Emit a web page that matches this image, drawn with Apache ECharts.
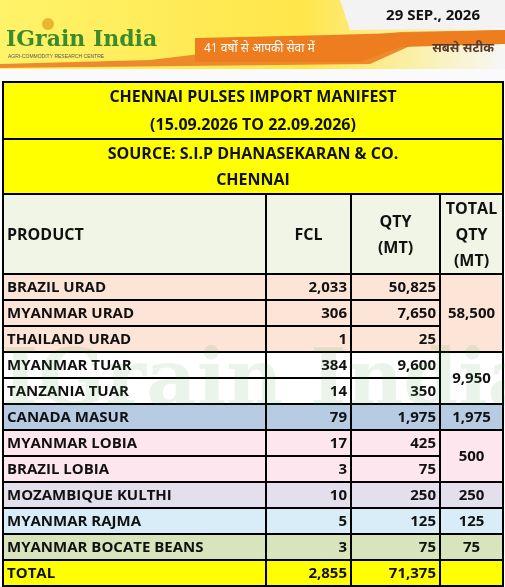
<!DOCTYPE html>
<html><head><meta charset="utf-8">
<script src="https://cdn.jsdelivr.net/npm/echarts@6/dist/echarts.min.js"></script>
<style>html,body{margin:0;padding:0;background:#fff}#c{width:505px;height:587px}</style>
</head><body><div id="c"></div>
<script>
const products = ["BRAZIL URAD","MYANMAR URAD","THAILAND URAD","MYANMAR TUAR","TANZANIA TUAR","CANADA MASUR","MYANMAR LOBIA","BRAZIL LOBIA","MOZAMBIQUE KULTHI","MYANMAR RAJMA","MYANMAR BOCATE BEANS"];
const fcl = [2033,306,1,384,14,79,17,3,10,5,3];
const qty = [50825,7650,25,9600,350,1975,425,75,250,125,75];
const groupTotals = [58500,9950,1975,500,250,125,75];
const groupSizes = [3,2,1,2,1,1,1];
const totalFcl = 2855, totalQty = 71375;
const title1 = "CHENNAI PULSES IMPORT MANIFEST", title2 = "(15.09.2026 TO 22.09.2026)";
const source1 = "SOURCE: S.I.P DHANASEKARAN & CO.", source2 = "CHENNAI";
const headers = ["PRODUCT","FCL","QTY\n(MT)","TOTAL\nQTY\n(MT)"];

// layout/style
const groupColors = ["#fce4d6","#ffffff","#b7cbe3","#fde6ee","#e4dfec","#d9edf9","#d8e4bc"];
const colEdges = [3,266,351,440,503];
const hTitle=57, hSource=55, hHead=80, hRow=26;
const fmt = v => v.toLocaleString('en-US');
const FONT = '"Open Sans", "Noto Sans", sans-serif';

const cells = [];
function cell(x0,x1,y0,y1,text,fill,align,size,lh){cells.push([x0,x1,y0,y1,text,fill,align||'center',size||15,lh||0]);}
let y=0;
cell(colEdges[0],colEdges[4],y,y+hTitle,title1+"\n"+title2,"#ffff00",'center',16,28); y+=hTitle;
cell(colEdges[0],colEdges[4],y,y+hSource,source1+"\n"+source2,"#ffff00",'center',16,26); y+=hSource;
for(let c=0;c<4;c++) cell(colEdges[c],colEdges[c+1],y,y+hHead,headers[c],"#f1f5e6",c==0?'left':'center',16,26);
y+=hHead;
let r=0;
groupSizes.forEach((n,g)=>{
  const gy=y;
  for(let k=0;k<n;k++,r++){
    cell(colEdges[0],colEdges[1],y,y+hRow,products[r],groupColors[g],'left');
    cell(colEdges[1],colEdges[2],y,y+hRow,fmt(fcl[r]),groupColors[g],'right');
    cell(colEdges[2],colEdges[3],y,y+hRow,fmt(qty[r]),groupColors[g],'right');
    y+=hRow;
  }
  cell(colEdges[3],colEdges[4],gy,y,fmt(groupTotals[g]),groupColors[g],'center');
});
cell(colEdges[0],colEdges[1],y,y+hRow,"TOTAL","#ffff00",'left');
cell(colEdges[1],colEdges[2],y,y+hRow,fmt(totalFcl),"#ffff00",'right');
cell(colEdges[2],colEdges[3],y,y+hRow,fmt(totalQty),"#ffff00",'right');
cell(colEdges[3],colEdges[4],y,y+hRow,"","#ffff00",'center');
y+=hRow;
const tableH=y;

const chart = echarts.init(document.getElementById('c'),null,{renderer:'canvas'});
chart.setOption({
  animation:false,
  grid:{left:0,right:0,top:82,bottom:587-82-tableH},
  xAxis:{type:'value',min:0,max:505,show:false},
  yAxis:{type:'value',min:0,max:tableH,inverse:true,show:false},
  graphic:[
    {type:'rect',shape:{x:0,y:0,width:505,height:82},style:{fill:new echarts.graphic.LinearGradient(0,0,1,0,[{offset:0,color:'#fff36a'},{offset:0.6,color:'#ffe64a'},{offset:1,color:'#f7f7f7'}])},z:0},
    {type:'polygon',shape:{points:[[340,0],[505,0],[505,28],[350,30]]},style:{fill:'#f3f3f3'},z:1},
    {type:'polygon',shape:{points:[[0,64],[150,60],[300,42],[400,32],[505,30],[505,42],[410,46],[370,64],[0,68]]},style:{fill:'#ef8a2c'},z:1},
    {type:'polygon',shape:{points:[[195,38],[330,35],[505,30],[505,44],[400,47],[360,62],[195,62]]},style:{fill:'#ee7d1f'},z:1},
    {type:'rect',shape:{x:0,y:69,width:505,height:13},style:{fill:'#fafafa'},z:1},
    {type:'text',x:6,y:29,style:{text:'IGrain India',font:'bold 22px "DejaVu Serif", serif',fill:'#3b8a2c'},z:3},
    {type:'text',x:8,y:54,style:{text:'AGRI-COMMODITY RESEARCH CENTRE',font:'5px sans-serif',fill:'#555'},z:3},
    {type:'circle',shape:{cx:48,cy:24,r:6},style:{fill:'#e8b72d'},z:3},
    {type:'text',x:204,y:43,style:{text:'41 वर्षों से आपकी सेवा में',font:'12px "Noto Sans", sans-serif',fill:'#fff'},z:3},
    {type:'text',x:480,y:8,style:{text:'29 SEP., 2026',font:'bold 15px '+FONT,fill:'#111',align:'right'},z:3},
    {type:'text',x:494,y:42,style:{text:'सबसे सटीक',font:'bold 13px "Noto Sans", sans-serif',fill:'#5a3a2a',align:'right'},z:3},
    {type:'text',x:270,y:385,style:{text:'IGrain India',font:'bold 78px "DejaVu Serif", serif',fill:'rgba(60,150,60,0.10)',align:'center',verticalAlign:'middle'},z:100}
  ],
  series:[{
    type:'custom',
    data:cells,
    encode:{x:[0,1],y:[2,3]},
    renderItem:(params,api)=>{
      const d=cells[params.dataIndex];
      const p0=api.coord([d[0],d[2]]), p1=api.coord([d[1],d[3]]);
      const w=p1[0]-p0[0], h=p1[1]-p0[1];
      const tx = d[6]=='left'? p0[0]+4 : d[6]=='right'? p1[0]-4 : p0[0]+w/2;
      return {type:'group',children:[
        {type:'rect',shape:{x:p0[0],y:p0[1],width:w,height:h},style:{fill:d[5],stroke:'#000',lineWidth:2}},
        {type:'text',style:{text:d[4],x:tx,y:p0[1]+h/2+1,align:d[6],verticalAlign:'middle',font:'bold '+d[7]+'px '+FONT,fill:'#111',lineHeight:d[8]||undefined}}
      ]};
    }
  }]
});
</script></body></html>
